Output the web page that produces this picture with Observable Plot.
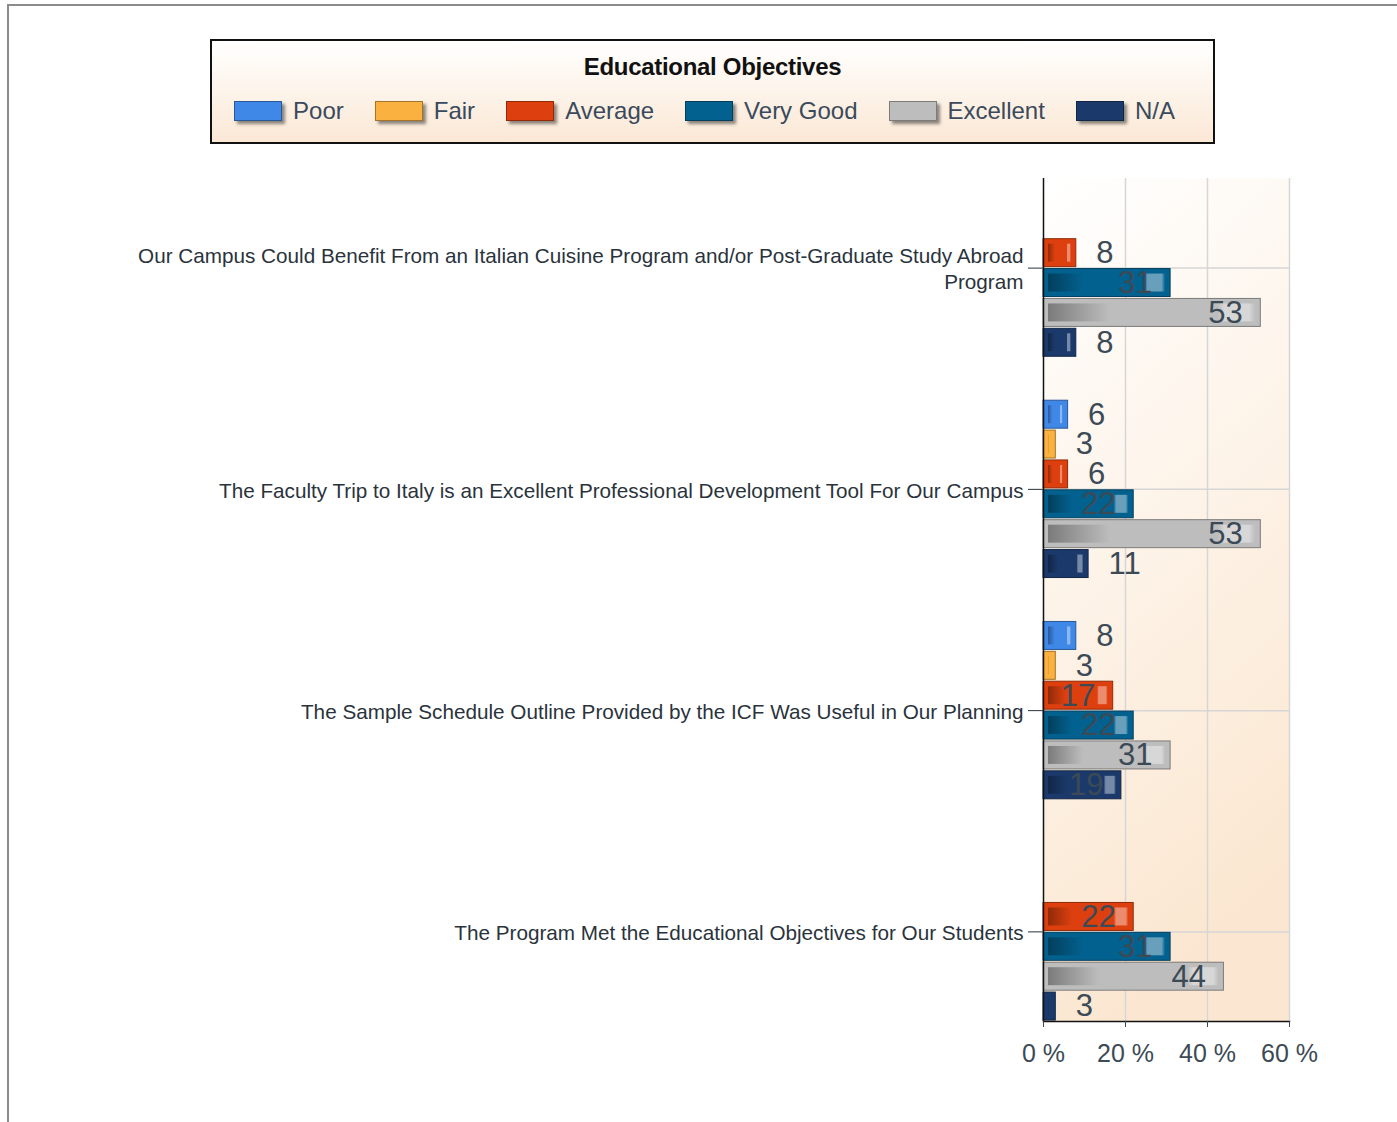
<!DOCTYPE html>
<html>
<head>
<meta charset="utf-8">
<script src="https://cdn.jsdelivr.net/npm/d3@7"></script>
<script src="https://cdn.jsdelivr.net/npm/@observablehq/plot@0.6"></script>
<style>
html, body { margin: 0; padding: 0; background: #fff; width: 1397px; height: 1122px; overflow: hidden;
  font-family: "Liberation Sans", Arial, sans-serif; }
#frame { position: absolute; left: 7px; top: 4px; width: 1420px; height: 1140px;
  border-top: 2px solid #8c8c8c; border-left: 2px solid #8c8c8c; }
#legend { position: absolute; left: 210px; top: 39px; width: 1001px; height: 101px;
  border: 2px solid #111; background: linear-gradient(to bottom, #ffffff, #fbe8d5); }
#legend .title { position: absolute; left: 0; right: 0; top: 12px; text-align: center;
  font-weight: bold; font-size: 24px; color: #111; letter-spacing: -0.3px; }
#legend .items { position: absolute; left: 0; right: 16px; top: 56px; display: flex;
  justify-content: center; gap: 31px; }
#legend .item { display: flex; align-items: center; gap: 11px; font-size: 24px; color: #3a4a5c; line-height: 28px; }
#legend .sw { width: 46px; height: 18px; box-shadow: 3px 3px 3px rgba(0,0,0,0.45); }
#chart { position: absolute; left: 0; top: 160px; }
</style>
</head>
<body>
<div id="frame"></div>
<div id="legend"><div class="title"></div><div class="items"></div></div>
<div id="chart"></div>
<script>
// ---- data ----
const chartTitle = "Educational Objectives";
const categories = [
  "Our Campus Could Benefit From an Italian Cuisine Program and/or Post-Graduate Study Abroad Program",
  "The Faculty Trip to Italy is an Excellent Professional Development Tool For Our Campus",
  "The Sample Schedule Outline Provided by the ICF Was Useful in Our Planning",
  "The Program Met the Educational Objectives for Our Students"
];
const categoryLabels = [
  "Our Campus Could Benefit From an Italian Cuisine Program and/or Post-Graduate Study Abroad\nProgram",
  "The Faculty Trip to Italy is an Excellent Professional Development Tool For Our Campus",
  "The Sample Schedule Outline Provided by the ICF Was Useful in Our Planning",
  "The Program Met the Educational Objectives for Our Students"
];
const series = ["Poor", "Fair", "Average", "Very Good", "Excellent", "N/A"];
const seriesColors = ["#3f88e8", "#fab13f", "#dd400e", "#03618f", "#bdbdbd", "#1b3a6b"];
const poor      = [0, 6, 8, 0];
const fair      = [0, 3, 3, 0];
const average   = [8, 6, 17, 22];
const veryGood  = [31, 22, 22, 31];
const excellent = [53, 53, 31, 44];
const notApplicable = [8, 11, 19, 3];
const xTicks = [0, 20, 40, 60];

// ---- build table ----
const seriesValues = [poor, fair, average, veryGood, excellent, notApplicable];
const rows = [];
categories.forEach((c, i) => series.forEach((s, j) => rows.push({category: c, series: s, si: j, value: seriesValues[j][i]})));
const darker = c => d3.interpolateRgb(c, "#000")(0.35);
const lighter = c => d3.interpolateRgb(c, "#fff")(0.4);
const labelMap = new Map(categories.map((c, i) => [c, categoryLabels[i]]));

// ---- legend (HTML) ----
document.querySelector("#legend .title").textContent = chartTitle;
const items = d3.select("#legend .items");
series.forEach((s, j) => {
  const it = items.append("div").attr("class", "item");
  it.append("div").attr("class", "sw")
    .style("background", seriesColors[j])
    .style("border", "1px solid " + darker(seriesColors[j]));
  it.append("span").text(s);
});

// ---- layout of the grouped band ----
const W = 1397, H = 940, mL = 1043, mR = 108, mT = 18, mB = 79;
const padInner = 0.19;
const step = (H - mT - mB) / (categories.length - padInner);
const bw = step * (1 - padInner);           // height of one category group
const slot = bw / series.length;            // height of one series slot
const gap = 0.95;                           // half gap between bars in a group

// ---- marks ----
const textColor = "#3c4a56";
const seriesMarks = series.flatMap((s, j) => {
  const data = rows.filter(d => d.si === j && d.value > 0);
  const top = j * slot + gap, bottom = (series.length - 1 - j) * slot + gap;
  return [
    Plot.barX(data, {x: "value", y: "category", fill: seriesColors[j], stroke: darker(seriesColors[j]),
      strokeWidth: 1, insetTop: top, insetBottom: bottom, ariaLabel: "bar-outer"}),
    Plot.barX(data, {x: "value", y: "category", fill: `url(#barGrad${j})`,
      insetTop: top + 5, insetBottom: bottom + 5, insetLeft: 5, insetRight: 5, ariaLabel: "bar-inner"})
  ];
});
const textMarks = series.flatMap((s, j) => {
  const data = rows.filter(d => d.si === j && d.value > 0);
  const dy = (j + 0.5) * slot - bw / 2;
  return [
    Plot.text(data.filter(d => d.value >= 15), {x: "value", y: "category", text: d => String(d.value),
      textAnchor: "end", dx: -18, dy, fontSize: 31, fill: textColor}),
    Plot.text(data.filter(d => d.value < 15), {x: "value", y: "category", text: d => String(d.value),
      textAnchor: "start", dx: 20, dy, fontSize: 31, fill: textColor})
  ];
});

const plot = Plot.plot({
  width: W, height: H, marginLeft: mL, marginRight: mR, marginTop: mT, marginBottom: mB,
  style: {fontFamily: "'Liberation Sans', Arial, sans-serif", background: "transparent", overflow: "visible"},
  x: {domain: [0, 60], axis: null},
  y: {domain: categories, axis: null, paddingInner: padInner, paddingOuter: 0, round: false},
  marks: [
    Plot.frame({fill: "url(#bgGrad)", stroke: "none"}),
    Plot.ruleX(xTicks.slice(1), {stroke: "#d6d6d6", strokeWidth: 1.5}),
    Plot.gridY({stroke: "#d6d6d6", strokeOpacity: 1, strokeWidth: 1.5}),
    ...seriesMarks,
    Plot.ruleX([0], {stroke: "#111", strokeWidth: 1.5}),
    Plot.frame({anchor: "bottom", stroke: "#111", strokeWidth: 1.5}),
    ...textMarks,
    Plot.axisX({anchor: "bottom", ticks: xTicks, tickFormat: d => d + " %", tickSize: 6, tickPadding: 17,
      fontSize: 25, color: textColor, label: null}),
    Plot.axisY({anchor: "left", tickSize: 15, tickPadding: 5, fontSize: 20.7, lineHeight: 1.25, color: "#2a333c",
      label: null, tickFormat: d => labelMap.get(d)})
  ]
});

// gradient definitions used by the marks
const svg = d3.select(plot);
const defs = svg.insert("defs", ":first-child");
const bg = defs.append("linearGradient").attr("id", "bgGrad")
  .attr("x1", 0).attr("y1", 0).attr("x2", 0.25).attr("y2", 1);
bg.append("stop").attr("offset", 0).attr("stop-color", "#ffffff");
bg.append("stop").attr("offset", 1).attr("stop-color", "#fbe7d1");
seriesColors.forEach((c, j) => {
  const g = defs.append("linearGradient").attr("id", "barGrad" + j)
    .attr("x1", 0).attr("y1", 0).attr("x2", 1).attr("y2", 0);
  [[0, darker(c)], [0.3, c], [0.82, c], [0.85, lighter(c)], [0.97, lighter(c)], [1, c]]
    .forEach(([o, col]) => g.append("stop").attr("offset", o).attr("stop-color", col));
});
svg.selectAll('g[aria-label="bar-outer"]').style("filter", "drop-shadow(4px 4px 3px rgba(0,0,0,0.55))");

document.getElementById("chart").appendChild(plot);
</script>
</body>
</html>
